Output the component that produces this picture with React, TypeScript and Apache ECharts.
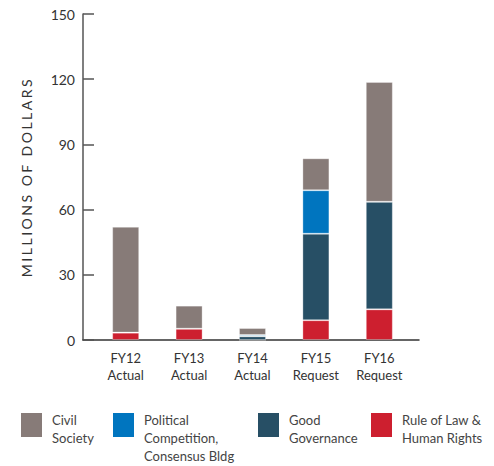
import React, { useEffect, useRef } from "react";
import * as echarts from "echarts";

const categories = ["FY12\nActual", "FY13\nActual", "FY14\nActual", "FY15\nRequest", "FY16\nRequest"];
const ruleOfLaw = [3.4, 5.2, 0, 9.1, 14.1];
const goodGovernance = [0, 0, 1.7, 39.8, 49.5];
const politicalCompetition = [0, 0, 0.6, 20, 0];
const civilSociety = [48.7, 10.6, 3.2, 14.7, 55.1];
const yTicks = [0, 30, 60, 90, 120, 150];

const seriesNames = ["Civil\nSociety", "Political\nCompetition,\nConsensus Bldg", "Good\nGovernance", "Rule of Law &\nHuman Rights"];
const colors = ["#877b78", "#0075bf", "#274f65", "#cd1f2f"];
const yAxisName = "MILLIONS OF DOLLARS";

const FONT = "Lato, 'Noto Sans', sans-serif";

export default function App() {
  const ref = useRef<HTMLDivElement>(null);
  useEffect(() => {
    if (!ref.current) return;
    document.body.style.margin = "0";
    const chart = echarts.init(ref.current, null, { renderer: "svg" });
    const barStyle = (c: string) => ({ color: c, borderColor: "rgba(255,255,255,0.3)", borderWidth: 1 });
    const legendLefts = [21, 113, 258, 371];
    const legendTop = 413;
    const legendGraphics = seriesNames.map((n, i) => ({
      type: "group",
      left: legendLefts[i],
      top: legendTop - 2,
      children: [
        { type: "rect", shape: { x: 0, y: 2, width: 21, height: 24 }, style: { fill: colors[i] } },
        {
          type: "text",
          x: 31,
          y: 0,
          style: {
            text: n,
            fill: "#444",
            font: `13px ${FONT}`,
            lineHeight: 18,
            verticalAlign: "top",
            align: "left",
          },
        },
      ],
    }));
    chart.setOption({
      animation: false,
      textStyle: { fontFamily: FONT },
      grid: [
        { left: 94, right: 83, top: 14, bottom: 126 },
        { left: 83, right: 75, top: 14, bottom: 126 },
      ],
      graphic: legendGraphics,
      xAxis: [
        {
          type: "category",
          gridIndex: 0,
          data: categories,
          axisLine: { show: false },
          axisTick: { show: false },
          axisLabel: { color: "#333", fontSize: 13, lineHeight: 17, margin: 9, fontFamily: FONT },
        },
        {
          type: "value",
          gridIndex: 1,
          min: 0,
          max: 1,
          axisLine: { show: true, lineStyle: { color: "#333", width: 1.5 } },
          axisTick: { show: false },
          axisLabel: { show: false },
          splitLine: { show: false },
        },
      ],
      yAxis: [
        {
          type: "value",
          gridIndex: 0,
          min: 0,
          max: 150,
          interval: 30,
          offset: 11,
          name: yAxisName,
          nameLocation: "middle",
          nameGap: 50,
          nameRotate: 90,
          nameTextStyle: { fontSize: 14, color: "#333", fontFamily: FONT },
          axisLine: { show: true, lineStyle: { color: "#555", width: 1.5 } },
          axisTick: { show: true, inside: true, length: 11, lineStyle: { color: "#555", width: 1.5 } },
          axisLabel: {
            color: "#333",
            fontSize: 14,
            margin: 8,
            fontFamily: FONT,
            formatter: (v: number) => (yTicks.includes(v) ? String(v) : ""),
          },
          splitLine: { show: false },
        },
        {
          type: "value",
          gridIndex: 1,
          min: 0,
          max: 150,
          show: false,
        },
      ],
      series: [
        { name: seriesNames[3], type: "bar", stack: "t", barWidth: 27, data: ruleOfLaw, itemStyle: barStyle(colors[3]) },
        { name: seriesNames[2], type: "bar", stack: "t", barWidth: 27, data: goodGovernance, itemStyle: barStyle(colors[2]) },
        { name: seriesNames[1], type: "bar", stack: "t", barWidth: 27, data: politicalCompetition, itemStyle: barStyle(colors[1]) },
        { name: seriesNames[0], type: "bar", stack: "t", barWidth: 27, data: civilSociety, itemStyle: barStyle(colors[0]) },
      ],
    });
    const spaceName = () => {
      const texts = ref.current?.querySelectorAll("text") || [];
      texts.forEach((t) => {
        if (t.textContent === yAxisName) t.setAttribute("letter-spacing", "2.5");
      });
    };
    spaceName();
    chart.on("finished", spaceName);
    return () => chart.dispose();
  }, []);
  return <div ref={ref} style={{ width: 494, height: 466 }} />;
}
